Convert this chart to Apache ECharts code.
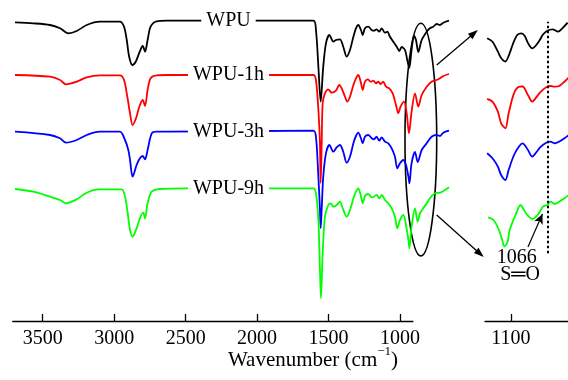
<!DOCTYPE html>
<html><head><meta charset="utf-8">
<script src="https://cdn.jsdelivr.net/npm/echarts@6/dist/echarts.min.js"></script>
<style>html,body{margin:0;padding:0;background:#fff}#c{width:568px;height:380px}</style>
</head><body><div id="c"></div>
<script>
// ---- Data (wavenumber in cm-1 as drawn on the axis, offset transmittance in a.u.) ----
const seriesNames = ['WPU', 'WPU-1h', 'WPU-3h', 'WPU-9h'];
const seriesColors = ['#000000', '#ff0000', '#0000ff', '#00ff00'];
const mainTicks = [3500, 3000, 2500, 2000, 1500, 1000];
const insetTicks = [1100];

const wpuWn = [3694,3566,3449,3379,3321,3262,3192,3100,2960,2931,2912,2895,2873,2849,2824,2800,2784,2766,2745,2703,2632,1606,1588,1571,1555,1537,1518,1494,1466,1448,1420,1397,1373,1350,1326,1308,1292,1273,1261,1245,1222,1198,1182,1164,1145,1128,1105,1089,1070,1047,1023,1005,988,965,949,935,919,902,888,872,848,813,791,767,743,720,697,657];
const wpuT = [298.7,297.7,296,292.7,287.7,290,296,299.3,299.3,294.3,281,264.3,256,259.3,268.3,275,269.3,281,294.3,299.7,300.3,300.3,291,254.3,219.3,254.3,277.7,286,279.3,281,281.7,274.3,264.3,271,284.3,292.7,296,291,286,292.7,294.3,291,290.3,291.7,289.3,292.7,288.3,289.3,284.3,279.3,274.3,270,274,271,261,253,271,285,281,269,281,289.3,292.7,294.3,297,296,298.3,300.3];

const wpu1Wn = [3694,3449,3379,3337,3262,3192,3100,2960,2931,2908,2889,2871,2847,2824,2800,2784,2766,2745,2703,2632,1606,1588,1571,1560,1555,1548,1541,1525,1502,1478,1448,1425,1408,1385,1369,1350,1326,1308,1292,1275,1261,1245,1225,1205,1186,1168,1152,1135,1117,1098,1075,1051,1028,1012,996,972,953,937,919,895,872,848,813,779,743,720,697,657];
const wpu1T = [246,244.3,241,236.7,239.3,243.7,245.7,245.7,241,224.3,207.7,196,202.7,214.3,221,215,231,242.7,245.7,246,246,241,211,178,138,176,218,227.7,231.7,228.3,230.3,236,232.7,224.3,219.3,224.3,236,242.7,246,239.3,231,239.3,241.7,239.3,240.3,237.7,239.3,237,239.3,234.3,232.7,227.7,216,207.7,214.3,219.3,207.7,187.7,209,227.7,214.3,226,234.3,239.3,241,242.7,245,247];

const wpu3Wn = [3694,3449,3379,3337,3262,3192,3100,2960,2924,2901,2889,2871,2843,2820,2800,2784,2766,2737,2703,2632,1606,1588,1571,1560,1555,1548,1537,1518,1494,1466,1443,1420,1397,1373,1350,1326,1308,1292,1273,1261,1245,1222,1198,1182,1164,1145,1128,1105,1082,1058,1035,1019,1000,977,958,941,934,919,895,876,848,813,779,743,720,697,657];
const wpu3T = [189.3,186,182.7,178.3,181,186,189.3,189.3,181,171,161,144.3,156,162.7,165,161.7,171,187.7,189.3,189.3,190.3,184.3,144.3,111,92.7,111,144.3,167.7,176,169.3,173.7,176,169.3,158.3,164.3,177.7,185,188.3,182.7,177.7,184.3,186,182.7,181.7,184.3,180.3,183.7,179.3,177.7,172.7,164.3,152.7,157.7,161,156,144.3,137.7,157.7,169,159,171,177.7,184.3,186,185,188.3,190.3];

const wpu9Wn = [3694,3566,3449,3379,3337,3262,3192,3111,2948,2924,2905,2889,2871,2843,2820,2796,2784,2766,2737,2680,2492,1606,1588,1571,1560,1553,1541,1525,1502,1485,1466,1443,1420,1401,1373,1350,1326,1308,1292,1275,1261,1245,1222,1198,1182,1164,1145,1128,1105,1082,1058,1035,1019,1000,977,958,941,934,919,895,876,860,837,813,791,755,720,685,657];
const wpu9T = [132,129.3,124.3,121,117.7,121.7,128.3,131.7,131.7,124.3,107.7,91,84.3,92.7,102.7,108.3,102.7,117.7,129.3,132,132.7,132.7,127.7,101,51,22.7,67.7,104.3,116,117.7,114.3,116,119.3,112.7,104.3,111,122.7,129.3,132.7,126,117.7,125,127,123.7,124.3,126,122.7,126,121,117.7,112.7,104.3,92.7,101,106,96,81,72.7,94.3,112.7,99.3,107.7,112.7,117.7,122.7,127.7,128.3,131,133.7];

// inset (enlarged region)
const inWpuWn = [1122,1117,1112,1109,1105,1102,1098,1094,1090,1087,1084,1080,1077,1073,1070,1066,1061,1056,1052,1047];
const inWpuT = [282.7,279.3,269.3,263,259.5,265,277,286,287.7,285,278,272.7,275,281,286.5,290.3,291.7,289.3,292.7,298.3];
const inWpu1Wn = [1122,1117,1112,1109,1105,1102,1097,1092,1089,1084,1080,1077,1072,1067,1063,1059,1055,1050,1046];
const inWpu1T = [222.2,219.3,209.3,197.7,192.7,207.7,227.7,234.3,234.5,226,219.3,222.7,229.3,233.7,235,234.3,235,239.3,243.5];
const inWpu3Wn = [1122,1117,1112,1109,1105,1102,1097,1092,1089,1084,1080,1077,1072,1067,1063,1059,1055,1050,1046];
const inWpu3T = [167.7,162.7,154.3,146,141,151,166,175,177.7,171,164.3,167.7,174.3,178.3,179.3,177.7,179.3,182.7,186];
const inWpu9Wn = [1121,1116,1111,1108,1106,1103,1101,1095,1091,1086,1080,1075,1070,1066,1063,1059,1055,1050,1046];
const inWpu9T = [103.7,101,91,81,74.5,79,91,107.7,116,108,102,106,114.3,116,119.3,117,119.3,122.7,126];

// annotations
const labelWn = 2200;
const labelT = [300.3, 246, 189.3, 132.7];
const soWn = 1066;
const soLineT = [67.7, 299.3];

// ---- Chart ----
const FONT = '"Liberation Serif", "Times New Roman", serif';
const zip = (a, b) => a.map((v, i) => [v, b[i]]);
const mainSets = [[wpuWn, wpuT], [wpu1Wn, wpu1T], [wpu3Wn, wpu3T], [wpu9Wn, wpu9T]];
const insetSets = [[inWpuWn, inWpuT], [inWpu1Wn, inWpu1T], [inWpu3Wn, inWpu3T], [inWpu9Wn, inWpu9T]];

const series = [];
mainSets.forEach((s, i) => {
  series.push({
    name: seriesNames[i], type: 'line', xAxisIndex: 0, yAxisIndex: 0,
    data: zip(s[0], s[1]), showSymbol: false, smooth: 0.3,
    lineStyle: { color: seriesColors[i], width: 1.8 }, itemStyle: { color: seriesColors[i] },
    silent: true,
    markPoint: {
      symbol: 'circle', symbolSize: 0, silent: true,
      data: [{ name: seriesNames[i], coord: [labelWn, labelT[i]] }],
      label: { show: true, position: 'inside', formatter: seriesNames[i], color: '#000',
        fontFamily: FONT, fontSize: 20, backgroundColor: '#fff', padding: [2, 5] }
    }
  });
});
insetSets.forEach((s, i) => {
  const ser = {
    name: seriesNames[i] + ' (inset)', type: 'line', xAxisIndex: 2, yAxisIndex: 2,
    data: zip(s[0], s[1]), showSymbol: false, smooth: 0.3,
    lineStyle: { color: seriesColors[i], width: 1.8 }, silent: true
  };
  if (i === 3) {
    ser.markLine = {
      silent: true, symbol: ['none', 'none'], label: { show: false },
      lineStyle: { color: '#000', type: [2.5, 2.5], width: 2 },
      data: [[{ coord: [soWn, soLineT[0]] }, { coord: [soWn, soLineT[1]] }]]
    };
  }
  if (i === 0) {
    ser.markLine = {
      silent: true, symbol: ['none', 'arrow'], symbolSize: [7, 10], label: { show: false },
      lineStyle: { color: '#000', type: 'solid', width: 1.2 },
      data: [[{ coord: [1084, 74] }, { coord: [1070.5, 107] }]]
    };
  }
  series.push(ser);
});

const tickStyle = { show: true, inside: true, length: 7, lineStyle: { color: '#000', width: 1.3 } };
const labelStyle = { show: true, color: '#000', fontFamily: FONT, fontSize: 20, margin: 8, formatter: v => String(v) };
const lineStyle = { show: true, onZero: false, lineStyle: { color: '#000', width: 1.3 } };
const option = {
  animation: false,
  backgroundColor: '#fff',
  grid: [
    { left: 12.7, top: 0, width: 436.3, height: 321, outerBoundsMode: 'none' },   // data of main panel
    { left: 12.7, top: 0, width: 400.2, height: 321, outerBoundsMode: 'none' },   // main axis
    { left: 485, top: 0, width: 90.2, height: 321, outerBoundsMode: 'none' }      // inset
  ],
  xAxis: [
    { gridIndex: 0, type: 'value', inverse: true, min: 657, max: 3710, show: false },
    { gridIndex: 1, type: 'value', inverse: true, min: 910, max: 3710, axisLine: lineStyle, splitLine: { show: false },
      axisTick: Object.assign({ customValues: mainTicks }, tickStyle),
      axisLabel: Object.assign({ customValues: mainTicks }, labelStyle) },
    { gridIndex: 2, type: 'value', inverse: true, min: 1040, max: 1124, axisLine: lineStyle, splitLine: { show: false },
      axisTick: Object.assign({ customValues: insetTicks }, tickStyle),
      axisLabel: Object.assign({ customValues: insetTicks }, labelStyle) }
  ],
  yAxis: [
    { gridIndex: 0, type: 'value', min: 0, max: 321, show: false },
    { gridIndex: 1, type: 'value', min: 0, max: 321, show: false },
    { gridIndex: 2, type: 'value', min: 0, max: 321, show: false }
  ],
  series: series
};

const chart = echarts.init(document.getElementById('c'), null, { renderer: 'canvas' });
chart.setOption(option);

const px = (g, wn, t) => chart.convertToPixel({ gridIndex: g }, [wn, t]);
function arrow(a, b) {
  const dx = b[0] - a[0], dy = b[1] - a[1], L = Math.hypot(dx, dy), ux = dx / L, uy = dy / L;
  const hl = 10, hw = 3.5;
  const base = [b[0] - ux * hl, b[1] - uy * hl];
  return [
    { type: 'line', silent: true, shape: { x1: a[0], y1: a[1], x2: base[0] + ux * 2, y2: base[1] + uy * 2 }, style: { stroke: '#000', lineWidth: 1.3 } },
    { type: 'polygon', silent: true, shape: { points: [b, [base[0] - uy * hw, base[1] + ux * hw], [base[0] + uy * hw, base[1] - ux * hw]] }, style: { fill: '#000' } }
  ];
}
const eL = px(0, 965, 181.3), eR = px(0, 743, 181.3), eT = px(0, 853, 297.7), eB = px(0, 853, 65);
const graphics = [
  { type: 'ellipse', silent: true, shape: { cx: (eL[0] + eR[0]) / 2, cy: (eT[1] + eB[1]) / 2, rx: Math.abs(eR[0] - eL[0]) / 2, ry: Math.abs(eB[1] - eT[1]) / 2 },
    style: { fill: 'none', stroke: '#000', lineWidth: 1.6 } }
].concat(arrow(px(0, 743, 256), px(2, 1130.7, 291)))
 .concat(arrow(px(0, 743, 106), px(2, 1125.2, 64)));
const t1 = px(2, 1094.4, 63), t2 = px(2, 1091.3, 46);
graphics.push({ type: 'text', silent: true, x: t1[0], y: t1[1], style: { text: '1066', fontFamily: FONT, fontSize: 20, fill: '#000', align: 'center', verticalAlign: 'middle' } });
graphics.push({ type: 'text', silent: true, x: t2[0], y: t2[1], style: { text: 'S\u2550O', fontFamily: FONT, fontSize: 20, fill: '#000', align: 'center', verticalAlign: 'middle' } });
graphics.push({ type: 'text', silent: true, x: 313, y: 358, style: {
  text: '{a|Wavenumber (cm}{s|\u22121}{a|)}', align: 'center', verticalAlign: 'middle',
  rich: { a: { fontFamily: FONT, fontSize: 21, fill: '#000', lineHeight: 26, verticalAlign: 'bottom' },
          s: { fontFamily: FONT, fontSize: 13, fill: '#000', lineHeight: 13, verticalAlign: 'top' } } } });
chart.setOption({ graphic: graphics });
</script>
</body></html>
